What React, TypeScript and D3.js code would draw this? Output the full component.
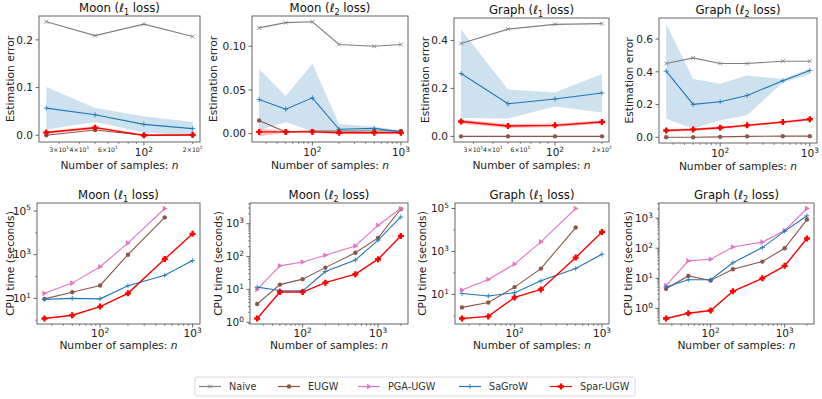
import React from "react";
import * as d3 from "d3";

const FONT = "'DejaVu Sans', sans-serif";

const methods = ["Naive", "EUGW", "PGA-UGW", "SaGroW", "Spar-UGW"];
const methodColors = ["#7f7f7f", "#8c564b", "#e377c2", "#1f77b4", "#ff0000"];

const nSmall = [25, 50, 100, 200];
const nMid = [25, 50, 100, 200, 500, 1000];
const nLarge = [25, 50, 100, 200, 500, 1000, 2000];
// minor tick labels on the short x axes
const minorXLabels = [30, 40, 60, 200];

// ---- estimation error, Moon l1
const moonL1Naive = [0.238, 0.209, 0.233, 0.207];
const moonL1Eugw = [0.0, 0.011, 0.0, 0.0];
const moonL1Sagrow = [0.057, 0.043, 0.023, 0.014];
const moonL1SagrowLo = [0.012, 0.028, 0.006, 0.0];
const moonL1SagrowHi = [0.101, 0.057, 0.04, 0.028];
const moonL1Spar = [0.006, 0.016, 0.0, 0.001];
const moonL1SparLo = [0.003, 0.013, -0.002, -0.001];
const moonL1SparHi = [0.009, 0.019, 0.002, 0.003];

// ---- estimation error, Moon l2
const moonL2Naive = [0.121, 0.127, 0.128, 0.102, 0.1, 0.102];
const moonL2Eugw = [0.015, 0.002, 0.003, 0.003, 0.003, 0.003];
const moonL2Sagrow = [0.039, 0.028, 0.041, 0.005, 0.006, 0.002];
const moonL2SagrowLo = [0.004, 0.013, 0.003, 0.0, 0.004, 0.001];
const moonL2SagrowHi = [0.074, 0.043, 0.08, 0.011, 0.008, 0.004];
const moonL2Spar = [0.002, 0.002, 0.002, 0.001, 0.001, 0.001];
const moonL2SparLo = [-0.003, 0.001, 0.001, 0.0, 0.0, 0.0];
const moonL2SparHi = [0.006, 0.003, 0.003, 0.002, 0.002, 0.002];

// ---- estimation error, Graph l1
const graphL1Naive = [0.387, 0.447, 0.467, 0.47];
const graphL1Eugw = [0.0, 0.0, 0.0, 0.0];
const graphL1Sagrow = [0.262, 0.136, 0.156, 0.181];
const graphL1SagrowLo = [0.077, 0.075, 0.125, 0.1];
const graphL1SagrowHi = [0.446, 0.195, 0.183, 0.26];
const graphL1Spar = [0.062, 0.043, 0.046, 0.06];
const graphL1SparLo = [0.052, 0.035, 0.038, 0.054];
const graphL1SparHi = [0.07, 0.052, 0.054, 0.066];

// ---- estimation error, Graph l2
const graphL2Naive = [0.451, 0.485, 0.451, 0.451, 0.465, 0.465];
const graphL2Eugw = [0.0, 0.0, 0.003, 0.006, 0.007, 0.007];
const graphL2Sagrow = [0.404, 0.201, 0.217, 0.255, 0.346, 0.408];
const graphL2SagrowLo = [0.114, 0.052, 0.104, 0.135, 0.335, 0.383];
const graphL2SagrowHi = [0.694, 0.356, 0.327, 0.377, 0.356, 0.419];
const graphL2Spar = [0.042, 0.048, 0.058, 0.073, 0.093, 0.11];
const graphL2SparLo = [0.034, 0.04, 0.05, 0.066, 0.086, 0.102];
const graphL2SparHi = [0.05, 0.056, 0.066, 0.08, 0.1, 0.118];

// ---- CPU time (seconds)
const moonL1CpuPga = [17, 50, 280, 3400, 130000];
const moonL1CpuEugw = [9.5, 19, 39, 1000, 51000];
const moonL1CpuSagrow = [9, 10, 9.5, 38, 115, 540];
const moonL1CpuSpar = [1.2, 1.7, 4.2, 17, 630, 9000];

const moonL2CpuPga = [10, 52, 68, 110, 210, 900, 2900];
const moonL2CpuEugw = [3.6, 14, 20.5, 46, 130, 370, 2800];
const moonL2CpuSagrow = [11.7, 9.3, 9.0, 35, 78, 315, 1600];
const moonL2CpuSpar = [1.3, 8.3, 8.3, 16, 29, 83, 420];

const graphL1CpuPga = [16, 50, 260, 2800, 100000];
const graphL1CpuEugw = [2.5, 4.2, 22, 160, 13000];
const graphL1CpuSagrow = [11, 8.5, 12, 43, 160, 750];
const graphL1CpuSpar = [0.76, 0.95, 7.3, 17, 520, 8000];

const graphL2CpuPga = [5.7, 38, 43, 110, 160, 390, 2100];
const graphL2CpuEugw = [4.5, 12, 8.5, 20, 36, 100, 900];
const graphL2CpuSagrow = [5.1, 9, 9, 33, 105, 370, 1200];
const graphL2CpuSpar = [0.46, 0.69, 0.85, 3.7, 10, 26, 210];

type Series = { m: number; y: number[]; lo?: number[]; hi?: number[] };
type Panel = {
  title: string;
  sub: string;
  ylabel: string;
  n: number[];
  logY: boolean;
  box: [number, number, number, number];
  ylabX: number;
  minorLabels?: number[];
  series: Series[];
};

const errLabel = "Estimation error";
const cpuLabel = "CPU time (seconds)";

const panels: Panel[] = [
  {
    title: "Moon", sub: "1", ylabel: errLabel, n: nSmall, logY: false,
    box: [39, 16, 200, 142], ylabX: 10, minorLabels: minorXLabels,
    series: [
      { m: 0, y: moonL1Naive },
      { m: 1, y: moonL1Eugw },
      { m: 3, y: moonL1Sagrow, lo: moonL1SagrowLo, hi: moonL1SagrowHi },
      { m: 4, y: moonL1Spar, lo: moonL1SparLo, hi: moonL1SparHi },
    ],
  },
  {
    title: "Moon", sub: "2", ylabel: errLabel, n: nMid, logY: false,
    box: [252, 16, 408, 142], ylabX: 213,
    series: [
      { m: 0, y: moonL2Naive },
      { m: 1, y: moonL2Eugw },
      { m: 3, y: moonL2Sagrow, lo: moonL2SagrowLo, hi: moonL2SagrowHi },
      { m: 4, y: moonL2Spar, lo: moonL2SparLo, hi: moonL2SparHi },
    ],
  },
  {
    title: "Graph", sub: "1", ylabel: errLabel, n: nSmall, logY: false,
    box: [454, 18, 609, 142], ylabX: 425, minorLabels: minorXLabels,
    series: [
      { m: 0, y: graphL1Naive },
      { m: 1, y: graphL1Eugw },
      { m: 3, y: graphL1Sagrow, lo: graphL1SagrowLo, hi: graphL1SagrowHi },
      { m: 4, y: graphL1Spar, lo: graphL1SparLo, hi: graphL1SparHi },
    ],
  },
  {
    title: "Graph", sub: "2", ylabel: errLabel, n: nMid, logY: false,
    box: [659, 18, 817, 143], ylabX: 629,
    series: [
      { m: 0, y: graphL2Naive },
      { m: 1, y: graphL2Eugw },
      { m: 3, y: graphL2Sagrow, lo: graphL2SagrowLo, hi: graphL2SagrowHi },
      { m: 4, y: graphL2Spar, lo: graphL2SparLo, hi: graphL2SparHi },
    ],
  },
  {
    title: "Moon", sub: "1", ylabel: cpuLabel, n: nMid, logY: true,
    box: [37, 203, 200, 324], ylabX: 10,
    series: [
      { m: 1, y: moonL1CpuEugw },
      { m: 2, y: moonL1CpuPga },
      { m: 3, y: moonL1CpuSagrow },
      { m: 4, y: moonL1CpuSpar },
    ],
  },
  {
    title: "Moon", sub: "2", ylabel: cpuLabel, n: nLarge, logY: true,
    box: [250, 203, 408, 324], ylabX: 218,
    series: [
      { m: 1, y: moonL2CpuEugw },
      { m: 2, y: moonL2CpuPga },
      { m: 3, y: moonL2CpuSagrow },
      { m: 4, y: moonL2CpuSpar },
    ],
  },
  {
    title: "Graph", sub: "1", ylabel: cpuLabel, n: nMid, logY: true,
    box: [455, 203, 609, 324], ylabX: 422,
    series: [
      { m: 1, y: graphL1CpuEugw },
      { m: 2, y: graphL1CpuPga },
      { m: 3, y: graphL1CpuSagrow },
      { m: 4, y: graphL1CpuSpar },
    ],
  },
  {
    title: "Graph", sub: "2", ylabel: cpuLabel, n: nLarge, logY: true,
    box: [659, 203, 814, 324], ylabX: 628,
    series: [
      { m: 1, y: graphL2CpuEugw },
      { m: 2, y: graphL2CpuPga },
      { m: 3, y: graphL2CpuSagrow },
      { m: 4, y: graphL2CpuSpar },
    ],
  },
];

// legend layout
const legendStarts = [199, 278, 358, 459, 550];

const Marker = ({ m, x, y }: { m: number; x: number; y: number }) => {
  const c = methodColors[m];
  if (m === 0)
    return <path d={`M${x - 2},${y - 2}L${x + 2},${y + 2}M${x - 2},${y + 2}L${x + 2},${y - 2}`} stroke={c} strokeWidth={0.8} />;
  if (m === 1) return <circle cx={x} cy={y} r={2.2} fill={c} />;
  if (m === 2) return <path d={`M${x + 3},${y}L${x - 2},${y - 2.8}L${x - 2},${y + 2.8}Z`} fill={c} />;
  if (m === 3)
    return <path d={`M${x - 2.5},${y}L${x + 2.5},${y}M${x},${y - 2.5}L${x},${y + 2.5}`} stroke={c} strokeWidth={0.8} />;
  const a = 3, b = 1.2;
  return (
    <path
      d={`M${x - b},${y - a}H${x + b}V${y - b}H${x + a}V${y + b}H${x + b}V${y + a}H${x - b}V${y + b}H${x - a}V${y - b}H${x - b}Z`}
      fill={c}
    />
  );
};

const Pow = ({ mant, exp, size }: { mant: string; exp: number; size: number }) => (
  <>
    {mant}
    <tspan dy={-size * 0.42} fontSize={size * 0.7}>{exp}</tspan>
  </>
);

function logRange(vals: number[]) {
  const lo = Math.log10(d3.min(vals)!);
  const hi = Math.log10(d3.max(vals)!);
  const pad = (hi - lo) * 0.05;
  return [10 ** (lo - pad), 10 ** (hi + pad)];
}

const PanelView = ({ p }: { p: Panel }) => {
  const [x0, y0, x1, y1] = p.box;
  const x = d3.scaleLog().domain(logRange(p.n)).range([x0, x1]);
  const all = p.series.flatMap((s) => [...s.y, ...(s.lo || []), ...(s.hi || [])]);
  let y: any;
  if (p.logY) {
    y = d3.scaleLog().domain(logRange(all)).range([y1, y0]);
  } else {
    const [a, b] = d3.extent(all) as [number, number];
    const pad = (b - a) * 0.05;
    y = d3.scaleLinear().domain([a - pad, b + pad]).range([y1, y0]);
  }

  // x ticks
  const [dx0, dx1] = x.domain();
  const xMajor: number[] = [];
  const xMinor: number[] = [];
  for (let e = Math.floor(Math.log10(dx0)); e <= Math.ceil(Math.log10(dx1)); e++) {
    for (let k = 1; k <= 9; k++) {
      const v = k * 10 ** e;
      if (v < dx0 || v > dx1) continue;
      (k === 1 ? xMajor : xMinor).push(v);
    }
  }

  // y ticks
  const tickFs = 10.5;
  let yTicks: { v: number; label: React.ReactNode }[] = [];
  let yMinor: number[] = [];
  if (p.logY) {
    const [dy0, dy1] = y.domain();
    const l0 = Math.log10(dy0), l1 = Math.log10(dy1);
    const stride = l1 - l0 > 4.5 ? 2 : 1;
    for (let e = Math.floor(l0) - stride; e <= Math.ceil(l1) + stride; e++) {
      const v = 10 ** e;
      const isMajor = (((e - (Math.floor(l0) - stride)) % stride) + stride) % stride === 0;
      if (v >= dy0 && v <= dy1) {
        if (isMajor) yTicks.push({ v, label: <Pow mant="10" exp={e} size={tickFs} /> });
        else yMinor.push(v);
      }
      if (stride === 1) {
        for (let k = 2; k <= 9; k++) {
          const w = k * v;
          if (w >= dy0 && w <= dy1) yMinor.push(w);
        }
      }
    }
  } else {
    const [a, b] = y.domain();
    const step = d3.tickStep(a, b, 3);
    const fmt = d3.format(`.${d3.precisionFixed(step)}f`);
    yTicks = d3.ticks(a, b, 3).map((v) => ({ v, label: fmt(v) }));
  }

  const line = d3.line<number>().x((_, i) => x(p.n[i])).y((v) => y(v));
  const area = (s: Series) =>
    d3.area<number>().x((_, i) => x(p.n[i])).y0((_, i) => y(s.lo![i])).y1((_, i) => y(s.hi![i]))(s.y);

  const cx = (x0 + x1) / 2;
  const cyMid = (y0 + y1) / 2;
  const labOff = p.logY ? 25 : 27;
  const tickOff = p.logY ? 13 : 14;

  return (
    <g>
      {/* bands */}
      {p.series.filter((s) => s.lo).map((s, i) => (
        <path key={"b" + i} d={area(s) || ""} fill={methodColors[s.m]} opacity={s.m === 4 ? 0.25 : 0.22} />
      ))}
      {/* lines + markers */}
      {p.series.map((s, i) => (
        <g key={"s" + i}>
          <path d={line(s.y) || ""} fill="none" stroke={methodColors[s.m]} strokeWidth={s.m === 4 ? 1.4 : 1.1} />
          {s.y.map((v, j) => (
            <Marker key={j} m={s.m} x={x(p.n[j])} y={y(v)} />
          ))}
        </g>
      ))}
      {/* frame */}
      <rect x={x0} y={y0} width={x1 - x0} height={y1 - y0} fill="none" stroke="#555" strokeWidth={0.9} />
      {/* x ticks */}
      {xMajor.map((v) => (
        <g key={"xm" + v}>
          <line x1={x(v)} x2={x(v)} y1={y1} y2={y1 + 3.5} stroke="#444" strokeWidth={0.8} />
          <text x={x(v)} y={y1 + tickOff} textAnchor="middle" fontSize={tickFs} fill="#222">
            <Pow mant="10" exp={Math.round(Math.log10(v))} size={tickFs} />
          </text>
        </g>
      ))}
      {xMinor.map((v) => {
        const e = Math.floor(Math.log10(v) + 1e-9);
        const k = Math.round(v / 10 ** e);
        return (
          <g key={"xn" + v}>
            <line x1={x(v)} x2={x(v)} y1={y1} y2={y1 + 2} stroke="#444" strokeWidth={0.6} />
            {p.minorLabels && p.minorLabels.includes(v) && (
              <text x={x(v)} y={y1 + 10} textAnchor="middle" fontSize={6.2} fill="#222">
                <Pow mant={`${k}×10`} exp={e} size={6.2} />
              </text>
            )}
          </g>
        );
      })}
      {/* y ticks */}
      {yTicks.map((t) => (
        <g key={"y" + t.v}>
          <line x1={x0 - 3.5} x2={x0} y1={y(t.v)} y2={y(t.v)} stroke="#444" strokeWidth={0.8} />
          <text x={x0 - 6} y={y(t.v) + 3.8} textAnchor="end" fontSize={tickFs} fill="#222">
            {t.label}
          </text>
        </g>
      ))}
      {yMinor.map((v) => (
        <line key={"yn" + v} x1={x0 - 2} x2={x0} y1={y(v)} y2={y(v)} stroke="#444" strokeWidth={0.6} />
      ))}
      {/* labels */}
      <text x={cx} y={y0 - 4} textAnchor="middle" fontSize={11.7} fill="#111">
        {p.title} (ℓ<tspan dy={3} fontSize={8}>{p.sub}</tspan>
        <tspan dy={-3}> loss)</tspan>
      </text>
      <text x={cx} y={y1 + labOff} textAnchor="middle" fontSize={10.7} fill="#222">
        Number of samples: <tspan fontStyle="italic">n</tspan>
      </text>
      <text
        transform={`translate(${p.ylabX},${cyMid}) rotate(-90)`}
        textAnchor="middle"
        dy="0.35em"
        fontSize={10.7}
        fill="#222"
      >
        {p.ylabel}
      </text>
    </g>
  );
};

export default function App() {
  return (
    <svg
      width={822}
      height={399}
      style={{ position: "absolute", left: 0, top: 0, background: "#fff" }}
      fontFamily={FONT}
    >
      {panels.map((p, i) => (
        <PanelView key={i} p={p} />
      ))}
      {/* legend */}
      <rect x={195} y={377} width={440} height={19} rx={2} fill="#fff" stroke="#d0d0d0" strokeWidth={0.8} />
      {methods.map((name, i) => {
        const sx = legendStarts[i];
        return (
          <g key={name}>
            <line x1={sx} x2={sx + 22} y1={386.5} y2={386.5} stroke={methodColors[i]} strokeWidth={1.2} />
            <Marker m={i} x={sx + 11} y={386.5} />
            <text x={sx + 30} y={390} fontSize={9.7} fill="#333">
              {name}
            </text>
          </g>
        );
      })}
    </svg>
  );
}
